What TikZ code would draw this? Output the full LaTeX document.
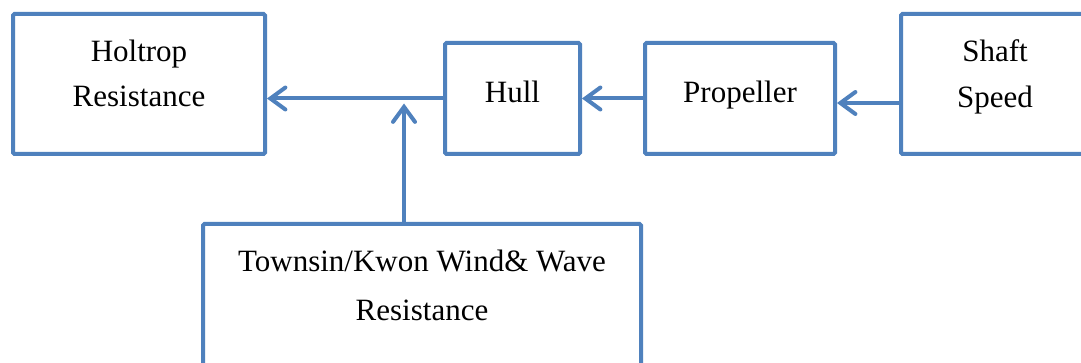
\documentclass[tikz,border=0pt]{standalone}
\usepackage{fontspec}
\setmainfont{Liberation Serif}
\usetikzlibrary{arrows.meta}
\definecolor{boxblue}{HTML}{4F81BD}
\tikzset{
  blk/.style={draw=boxblue, line width=4pt, rounded corners=1.5pt, rectangle, inner sep=0pt, fill=white},
  lbl/.style={anchor=base, inner sep=0pt, font=\fontsize{31}{45}\selectfont},
  arr/.style={draw=boxblue, line width=4pt, line cap=round,
    -{Straight Barb[length=15pt,width=22pt,line width=4pt,line cap=round]}}
}
\begin{document}
\begin{tikzpicture}[x=1pt,y=-1pt]
\useasboundingbox (0,0) rectangle (1081,363);
\clip (0,0) rectangle (1081,363);
\fill[white] (0,0) rectangle (1081,363);
% boxes
\node[blk, minimum width=252pt, minimum height=140pt] (holtrop) at (139,84) {};
\node[blk, minimum width=135pt, minimum height=111pt] (hull) at (512.5,98.5) {};
\node[blk, minimum width=190pt, minimum height=111pt] (prop) at (740,98.5) {};
\node[blk, minimum width=260pt, minimum height=140pt] (shaft) at (1031,84) {};
\node[blk, minimum width=438pt, minimum height=176pt] (towns) at (422,312) {};
% texts
\node[lbl] (t1a) at (139,62) {Holtrop};
\node[lbl] (t1b) at (139,107) {Resistance};
\node[lbl] (t2) at (512.5,103) {Hull};
\node[lbl] (t3) at (740,103) {Propeller};
\node[lbl] (t4a) at (995,62) {Shaft};
\node[lbl] (t4b) at (995,108) {Speed};
\node[lbl] (t5a) at (422,272) {Townsin/Kwon Wind\& Wave};
\node[lbl] (t5b) at (422,320) {Resistance};
% connectors
\draw[arr] (hull.west) -- (hull.west -| holtrop.east);
\draw[arr] (prop.west) -- (hull.east);
\draw[arr] ([yshift=-19pt]shaft.west) -- ([yshift=-19pt]shaft.west -| prop.east);
\draw[arr, shorten >=5pt] ([xshift=-18pt]towns.north) -- ([xshift=-18pt]towns.north |- hull.west);
\end{tikzpicture}
\end{document}
